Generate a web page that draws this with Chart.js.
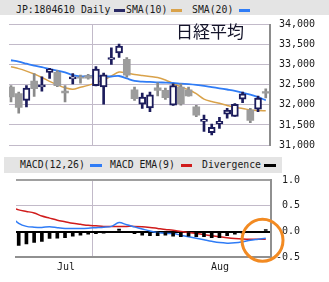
<!DOCTYPE html>
<html><head><meta charset="utf-8">
<script src="https://cdn.jsdelivr.net/npm/chart.js@4"></script>
<style>
html,body{margin:0;padding:0;background:#fff;width:329px;height:282px;overflow:hidden;}
.abs{position:absolute;}
.mono{position:absolute;font-family:"DejaVu Sans Mono",monospace;font-size:9.8px;line-height:10px;color:#1a1a1a;white-space:pre;}
.band{position:absolute;background:#e4e4e4;}
.sw{position:absolute;height:3px;}
.title{position:absolute;font-family:"Noto Sans CJK JP",sans-serif;font-size:17px;line-height:17px;color:#14142a;white-space:pre;}
</style></head><body>
<div class="band" style="left:0;top:0;width:329px;height:15px"></div>
<div class="band" style="left:4px;top:157px;width:278px;height:16px"></div>

<div class="mono" style="left:16px;top:5px">JP:1804610 Daily</div>
<div class="sw" style="left:114px;top:9px;width:11px;background:#2a2a66"></div>
<div class="mono" style="left:126px;top:5px">SMA(10)</div>
<div class="sw" style="left:171px;top:9px;width:11px;background:#d9a24a"></div>
<div class="mono" style="left:192px;top:5px">SMA(20)</div>
<div class="sw" style="left:239px;top:9px;width:11px;background:#2f7cf6"></div>

<div class="mono" style="left:20px;top:160px">MACD(12,26)</div>
<div class="sw" style="left:90px;top:164px;width:12px;background:#2f7cf6"></div>
<div class="mono" style="left:110px;top:160px">MACD EMA(9)</div>
<div class="sw" style="left:181px;top:164px;width:11px;background:#d01c1c"></div>
<div class="mono" style="left:202px;top:160px">Divergence</div>
<div class="sw" style="left:264px;top:164px;width:12px;background:#000"></div>

<div class="abs" style="left:0;top:0;width:329px;height:160px"><canvas id="top"></canvas></div>
<div class="abs" style="left:0;top:170px;width:300px;height:112px"><canvas id="bot"></canvas></div>
<div class="title" style="left:176px;top:22px">日経平均</div>

<script>
// ---- data ----
const days   = [0,1,2,3,4,5,6,7,8,9,10,11,12,13,14,15,16,17,18,19,20,21,22,23,24,25,26,27,28,29,30,31,32,33];
const opens  = [32440,32280,32110,32590,32445,32810,32810,32345,32645,32690,32730,32480,32445,33130,33290,33135,32375,32015,31925,32425,32360,31990,32440,32375,31950,31590,31310,31525,31765,31710,32140,31870,31890,32330];
const highs  = [32480,32320,32480,32780,32700,32910,32850,32480,32780,32740,32760,32950,32790,33420,33510,33175,32440,32295,32320,32545,32415,32520,32520,32440,31990,31745,31520,31690,31910,32030,32320,31910,32220,32400];
const lows   = [32070,31790,31950,32210,32340,32660,32455,32075,32520,32540,32640,32470,32015,33005,33180,32690,32110,31910,31830,32220,32135,31985,31990,32215,31705,31340,31250,31410,31665,31705,32055,31555,31830,32170];
const closes = [32200,31935,32420,32400,32495,32890,32480,32295,32700,32665,32665,32890,32750,33175,33465,32740,32155,32195,32250,32360,32180,32480,32030,32220,31745,31640,31440,31590,31870,32015,32275,31610,32170,32290];
const sma10  = [32950,32902,32840,32767,32681,32583,32497,32424,32387,32436,32485,32546,32620,32718,32816,32791,32755,32730,32706,32681,32620,32534,32448,32375,32277,32142,32081,32039,31983,31934,31909,31873,31860,31853];
const sma20  = [33110,33073,33024,32975,32938,32889,32853,32808,32742,32710,32718,32725,32710,32706,32718,32657,32595,32578,32571,32559,32554,32546,32529,32515,32497,32473,32441,32412,32382,32350,32301,32252,32191,32113];
const macd   = [0.29,0.16,0.10,0.085,0.08,0.095,0.075,0.06,0.06,0.06,0.065,0.075,0.085,0.10,0.175,0.13,0.09,0.05,0.01,-0.02,-0.035,-0.04,-0.07,-0.10,-0.13,-0.16,-0.19,-0.215,-0.225,-0.22,-0.20,-0.17,-0.15,-0.13];
const signal = [0.47,0.42,0.39,0.36,0.30,0.26,0.22,0.19,0.16,0.14,0.12,0.11,0.10,0.10,0.10,0.10,0.10,0.095,0.08,0.06,0.04,0.025,0.0,-0.02,-0.04,-0.06,-0.08,-0.10,-0.12,-0.135,-0.145,-0.15,-0.15,-0.15];
const diverg = [-0.30,-0.27,-0.24,-0.21,-0.19,-0.135,-0.13,-0.12,-0.09,-0.07,-0.05,-0.04,-0.03,-0.02,0.05,0.0,-0.04,-0.07,-0.08,-0.08,-0.07,-0.09,-0.10,-0.09,-0.10,-0.10,-0.12,-0.12,-0.08,-0.05,-0.03,-0.01,-0.01,0.04];
const priceTicks = [31000,31500,32000,32500,33000,33500,34000];
const macdTicks  = [-0.5,0,0.5,1.0];
const monthLabels = ['Jul','Aug'];
const monthPos    = [7.12,27.07];
const monthDivider = 13.95;

// ---- styles ----
const NAVY = '#1c1c5c', GRAY = '#9c9c9c', GRAYW = '#8a8a8a';
const GRID = '#c2bac9';
Chart.defaults.font.family = '"DejaVu Sans Mono", monospace';
Chart.defaults.font.size = 10;
Chart.defaults.color = '#1a1a1a';
Chart.defaults.animation = false;

const up = days.map(i => closes[i] >= opens[i]);
const pts = arr => days.map(i => ({x: i, y: arr[i]}));
const wickColors = days.map(i => up[i] ? NAVY : GRAYW);

function xTicksBuilder(scale){
  const t = monthPos.map(v => ({value: v}));
  t.push({value: monthDivider});
  t.sort((a,b)=>a.value-b.value);
  scale.ticks = t;
}
function xLabel(v){
  const k = monthPos.indexOf(v);
  return k >= 0 ? monthLabels[k] : '';
}
const gridDivider = c => (c.tick && c.tick.value === monthDivider) ? GRID : 'rgba(0,0,0,0)';

new Chart(document.getElementById('top'), {
  type: 'bar',
  data: {
    datasets: [
      {type:'line', data: pts(sma10), borderColor:'#d9a24a', borderWidth:1.5, pointRadius:0, tension:0.3, order:4},
      {type:'line', data: pts(sma20), borderColor:'#2f7cf6', borderWidth:1.8, pointRadius:0, tension:0.3, order:3},
      {data: days.map(i => ({x:i, y:[Math.max(opens[i], closes[i]), highs[i]]})), grouped:false, barThickness:2,
       backgroundColor: wickColors, borderWidth:0, order:2},
      {data: days.map(i => ({x:i, y:[lows[i], Math.min(opens[i], closes[i])]})), grouped:false, barThickness:2,
       backgroundColor: wickColors, borderWidth:0, order:2},
      {data: days.map(i => ({x:i, y:[opens[i], closes[i]]})), grouped:false, barThickness:7,
       backgroundColor: days.map(i => up[i] ? '#ffffff' : GRAY),
       borderColor: days.map(i => up[i] ? NAVY : GRAY),
       borderWidth: days.map(i => up[i] ? 2 : 0), borderSkipped:false, order:1}
    ]
  },
  options: {
    responsive:true, maintainAspectRatio:false, devicePixelRatio:1,
    layout:{padding:{left:9, top:24.5, right:0, bottom:12}},
    plugins:{legend:{display:false}, tooltip:{enabled:false}},
    scales:{
      x:{type:'linear', min:-0.26, max:33.55, offset:false,
         afterBuildTicks: xTicksBuilder, afterFit: s => { s.height = 0; },
         ticks:{display:false}, border:{display:false},
         grid:{color: gridDivider, drawTicks:false}},
      y:{type:'linear', position:'right', min:31000, max:34000,
         afterBuildTicks: s => { s.ticks = priceTicks.map(v => ({value:v})); },
         afterFit: s => { s.width = 59; },
         ticks:{padding:9, callback: v => v.toLocaleString('en-US')},
         border:{display:true, color:'#8c8c8c', width:2},
         grid:{color:GRID, drawTicks:false}}
    }
  }
});

const circleNote = {x: 32.58, y: -0.17, rx: 20.5, ry: 21};
const circlePlugin = {
  id:'circleNote',
  afterDraw(chart){
    const {ctx, scales} = chart;
    const cx = scales.x.getPixelForValue(circleNote.x), cy = scales.y.getPixelForValue(circleNote.y);
    ctx.save();
    ctx.strokeStyle = '#f28a22'; ctx.lineWidth = 3;
    ctx.beginPath(); ctx.ellipse(cx, cy, circleNote.rx, circleNote.ry, 0, 0, Math.PI*2); ctx.stroke();
    ctx.restore();
  }
};

new Chart(document.getElementById('bot'), {
  type: 'bar',
  data: {
    datasets: [
      {type:'line', data: pts(signal), borderColor:'#d01c1c', borderWidth:1.5, pointRadius:0, tension:0.3, order:3},
      {type:'line', data: pts(macd), borderColor:'#2f7cf6', borderWidth:1.5, pointRadius:0, tension:0.3, order:2},
      {data: pts(diverg), grouped:false, barThickness:3, backgroundColor:'#000', borderWidth:0, order:1}
    ]
  },
  options: {
    responsive:true, maintainAspectRatio:false, devicePixelRatio:1,
    layout:{padding:{left:16, top:10, right:0, bottom:0}},
    plugins:{legend:{display:false}, tooltip:{enabled:false}},
    scales:{
      x:{type:'linear', min:0.65, max:33.68, offset:false,
         afterBuildTicks: xTicksBuilder, afterFit: s => { s.height = 24.7; },
         ticks:{autoSkip:false, maxRotation:0, padding:4, callback: xLabel},
         border:{display:true, color:'#909090', width:2},
         grid:{color: gridDivider, drawTicks:false}},
      y:{type:'linear', position:'right', min:-0.5, max:1.0,
         afterBuildTicks: s => { s.ticks = macdTicks.map(v => ({value:v})); },
         afterFit: s => { s.width = 29; },
         ticks:{padding:3, crossAlign:'far', callback: v => v.toFixed(1)},
         border:{display:true, color:'#909090', width:2},
         grid:{drawTicks:false,
               color: c => c.tick.value === 0 ? '#000' : (c.tick.value === 1 ? '#a0a0a0' : GRID),
               lineWidth: c => c.tick.value === 0 ? 2 : (c.tick.value === 1 ? 2 : 1)}}
    }
  },
  plugins:[circlePlugin]
});
</script>
</body></html>
